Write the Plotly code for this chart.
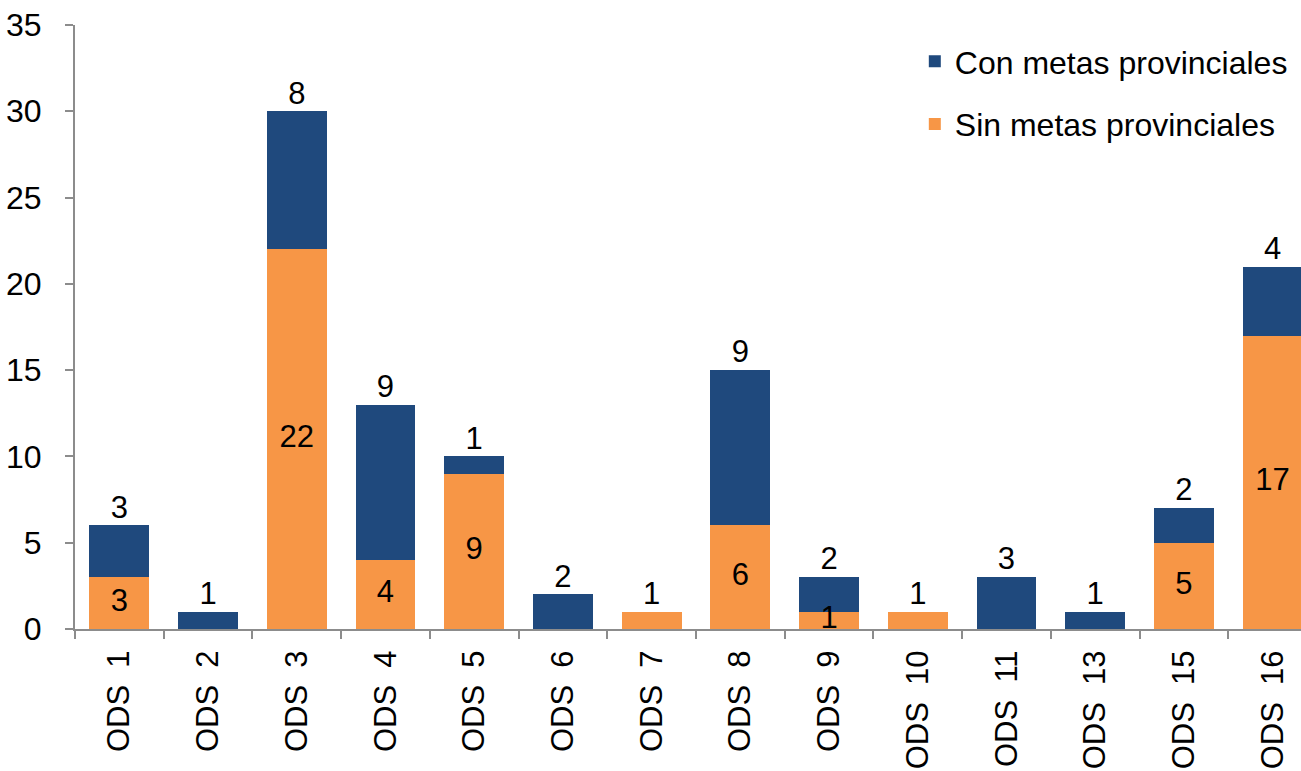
import plotly.graph_objects as go

categories = ["ODS\u00a0 1", "ODS\u00a0 2", "ODS\u00a0 3", "ODS\u00a0 4", "ODS\u00a0 5", "ODS\u00a0 6", "ODS\u00a0 7",
              "ODS\u00a0 8", "ODS\u00a0 9", "ODS\u00a0 10", "ODS\u00a0 11", "ODS\u00a0 13", "ODS\u00a0 15", "ODS\u00a0 16"]
sin_metas = [3, 0, 22, 4, 9, 0, 1, 6, 1, 1, 0, 0, 5, 17]
con_metas = [3, 1, 8, 9, 1, 2, 0, 9, 2, 0, 3, 1, 2, 4]

NAVY = "#1F497D"
ORANGE = "#F79646"
AXIS = "#8C8C8C"
FONT = "Liberation Sans, Arial, sans-serif"
FS = 32

totals = [s + c for s, c in zip(sin_metas, con_metas)]
top_text = [str(c) if c > 0 else str(s) for s, c in zip(sin_metas, con_metas)]
in_x = [cat for cat, s, c in zip(categories, sin_metas, con_metas) if s > 0 and c > 0]
in_y = [s / 2 for s, c in zip(sin_metas, con_metas) if s > 0 and c > 0]
in_t = [str(s) for s, c in zip(sin_metas, con_metas) if s > 0 and c > 0]

fig = go.Figure()
fig.add_trace(go.Bar(x=categories, y=sin_metas, name="Sin metas provinciales",
                     marker=dict(color=ORANGE, line=dict(width=0)), width=0.675,
                     legendgroup="s", legendrank=2, hoverinfo="skip"))
fig.add_trace(go.Bar(x=categories, y=con_metas, name="Con metas provinciales",
                     marker=dict(color=NAVY, line=dict(width=0)), width=0.675,
                     legendgroup="c", legendrank=1, hoverinfo="skip"))
fig.add_trace(go.Scatter(x=in_x, y=in_y, text=in_t, mode="text", textposition="middle center",
                         textfont=dict(size=31, color="black", family=FONT), showlegend=False,
                         hoverinfo="skip", cliponaxis=False))
fig.add_trace(go.Scatter(x=categories, y=totals, text=top_text, mode="text", textposition="top center",
                         textfont=dict(size=31, color="black", family=FONT), showlegend=False,
                         hoverinfo="skip", cliponaxis=False))

fig.update_layout(
    barmode="stack",
    width=1301, height=771,
    margin=dict(l=75, r=0, t=25, b=142, autoexpand=False),
    paper_bgcolor="white", plot_bgcolor="white",
    font=dict(family=FONT, size=FS, color="black"),
    legend=dict(x=0.685, y=0.985, xanchor="left", yanchor="top",
                traceorder="grouped", tracegroupgap=18,
                font=dict(size=FS, family=FONT, color="black"), bgcolor="rgba(0,0,0,0)"),
    xaxis=dict(type="category", range=[-0.5, 13.32], showline=True, linecolor=AXIS, linewidth=2,
               ticks="outside", tickson="boundaries", ticklen=8, tickwidth=2, tickcolor=AXIS,
               tickangle=-90, showgrid=False, zeroline=False, ticklabelstandoff=7, automargin=False,
               tickfont=dict(size=31, family=FONT, color="black")),
    yaxis=dict(range=[0, 35], dtick=5, showline=True, linecolor=AXIS, linewidth=2,
               ticks="outside", ticklen=8, tickwidth=2, tickcolor=AXIS, showgrid=False,
               zeroline=False, ticklabelstandoff=17, automargin=False,
               tickfont=dict(size=FS, family=FONT, color="black")),
)

fig.write_html("out.html", config={"displayModeBar": False},
               post_script="document.body.style.margin='0';document.body.style.overflow='hidden';")
